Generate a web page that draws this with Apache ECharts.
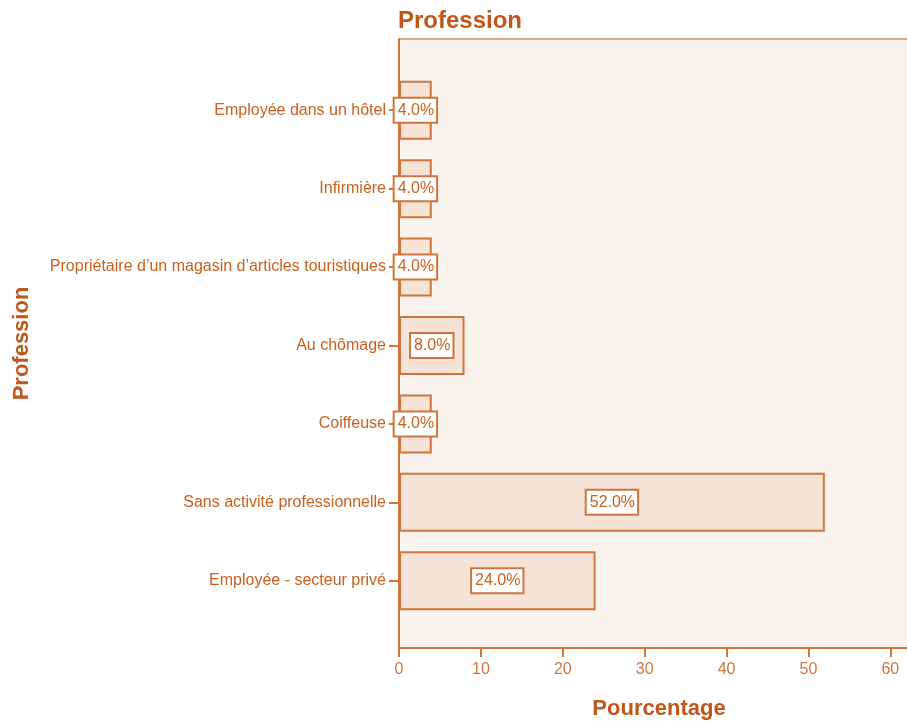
<!DOCTYPE html>
<html><head><meta charset="utf-8">
<script src="https://cdn.jsdelivr.net/npm/echarts@6/dist/echarts.min.js"></script>
<style>html,body{margin:0;padding:0;background:#fff}#c{width:907px;height:721px}</style>
</head><body><div id="c"></div>
<script>
const categories = ["Employée - secteur privé","Sans activité professionnelle","Coiffeuse","Au chômage","Propriétaire d’un magasin d’articles touristiques","Infirmière","Employée dans un hôtel"];
const values = [24.0, 52.0, 4.0, 8.0, 4.0, 4.0, 4.0];
const xTicks = [0,10,20,30,40,50,60];

const orange = '#c9601e';
const dark = '#c0561a';
const line = '#d0753d';
const F = 'Liberation Sans, Arial, sans-serif';
const xMax = 63.5;
const chart = echarts.init(document.getElementById('c'), null, {renderer:'canvas'});
chart.setOption({
  animation:false,
  title:{text:'Profession', left:393, top:4, textStyle:{color:dark, fontFamily:F, fontWeight:'bold', fontSize:24}},
  grid:[
    {left:399, right:-12, top:39, bottom:73, show:true, backgroundColor:'#f9f3ee', borderColor:'#e3a883', borderWidth:2, outerBoundsMode:'none', containLabel:false},
    {left:399, right:-12, top:71, bottom:101, show:false, outerBoundsMode:'none', containLabel:false}
  ],
  xAxis:[
    {type:'value', gridIndex:0, min:0, max:xMax, splitLine:{show:false},
     interval:10, axisLine:{show:true, lineStyle:{color:line, width:2}},
     axisTick:{show:true, length:9, lineStyle:{color:line, width:2}},
     axisLabel:{color:line, fontSize:16, fontFamily:F, margin:14,
       formatter:v=> xTicks.indexOf(v)>=0 ? String(v) : ''},
     name:'Pourcentage', nameLocation:'middle', nameGap:50,
     nameTextStyle:{color:dark, fontWeight:'bold', fontSize:22, fontFamily:F}},
    {type:'value', gridIndex:1, min:0, max:xMax, show:false}
  ],
  yAxis:[
    {type:'value', gridIndex:0, min:0, max:1, show:true, axisLine:{show:true, lineStyle:{color:line, width:2}},
     axisTick:{show:false}, axisLabel:{show:false}, splitLine:{show:false},
     name:'Profession', nameLocation:'middle', nameGap:366, nameRotate:90,
     nameTextStyle:{color:dark, fontWeight:'bold', fontSize:22, fontFamily:F}},
    {type:'category', gridIndex:1, data:categories,
     axisLine:{show:false}, axisTick:{show:true, alignWithLabel:true, length:10, lineStyle:{color:line, width:2}},
     axisLabel:{color:orange, fontSize:16, fontFamily:F, margin:13}}
  ],
  series:[{
    type:'bar', xAxisIndex:1, yAxisIndex:1, data:values, barWidth:59,
    itemStyle:{color:'#f5e3d8', borderColor:line, borderWidth:2},
    label:{show:true, position:'inside', formatter:p=>p.value.toFixed(1)+'%',
      color:orange, fontSize:16, fontFamily:F,
      backgroundColor:'#fff', borderColor:line, borderWidth:2, padding:[4,2,3,3]}
  }]
});
</script></body></html>
